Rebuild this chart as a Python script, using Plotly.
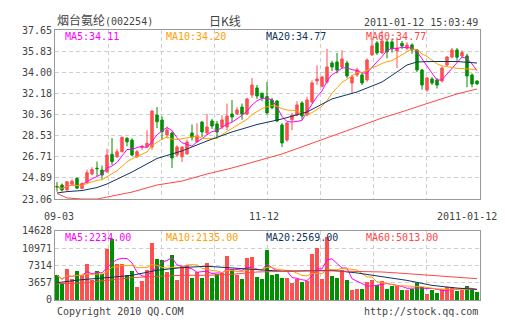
import pandas as pd
import plotly.graph_objects as go

# 烟台氨纶 (002254) daily candles, 2010-09-03 .. 2011-01-12
opens = [24.15, 24.27, 23.84, 24.35, 24.85, 23.98, 24.47, 25.22, 25.72, 25.56,
         25.42, 26.92, 26.71, 27.14, 28.30, 28.15, 26.71, 27.50, 27.58, 27.55,
         30.31, 29.88, 28.59, 28.76, 26.86, 26.70, 26.95, 28.76, 28.00, 29.70,
         28.76, 29.80, 29.54, 29.28, 29.28, 30.40, 30.40, 31.00, 30.40, 32.04,
         32.65, 32.20, 31.90, 31.61, 31.52, 29.45, 28.15, 29.90, 30.31, 31.35,
         30.31, 31.44, 33.25, 32.80, 33.16, 34.80, 34.89, 34.46, 34.80, 33.08,
         33.77, 33.77, 33.34, 35.50, 36.53, 35.67, 36.62, 36.62, 35.84, 36.50,
         36.10, 36.36, 35.93, 34.20, 32.47, 33.42, 33.34, 33.25, 34.63, 35.32,
         35.93, 35.41, 35.41, 33.77, 33.25]
highs = [24.55, 24.40, 24.60, 24.75, 24.90, 24.50, 25.60, 25.80, 26.30, 25.95,
         27.40, 28.33, 27.40, 28.45, 28.40, 28.30, 27.30, 27.75, 29.00, 30.70,
         31.00, 30.20, 29.30, 28.90, 27.70, 27.60, 28.20, 29.50, 29.60, 29.80,
         30.40, 29.98, 29.80, 30.30, 31.30, 31.60, 31.00, 31.30, 31.80, 33.50,
         32.90, 32.20, 33.16, 31.80, 31.60, 29.60, 29.70, 30.50, 31.50, 31.50,
         31.90, 33.30, 34.60, 33.70, 36.01, 35.00, 35.67, 35.90, 35.00, 33.80,
         34.40, 34.00, 35.20, 36.80, 36.70, 37.60, 36.90, 36.90, 37.00, 36.70,
         36.60, 36.50, 36.00, 34.30, 33.60, 33.60, 33.50, 34.50, 35.40, 36.10,
         36.10, 35.90, 35.60, 33.90, 33.30]
lows = [23.70, 23.70, 23.80, 24.30, 23.95, 23.90, 24.40, 25.10, 25.05, 24.75,
        25.30, 26.00, 26.60, 27.10, 27.60, 26.75, 26.60, 27.30, 27.50, 27.30,
        29.19, 28.15, 28.30, 25.74, 26.70, 26.25, 26.90, 28.10, 27.90, 28.40,
        28.60, 29.10, 28.40, 29.10, 29.00, 29.70, 30.30, 29.90, 30.30, 31.80,
        31.70, 31.50, 30.36, 30.80, 29.70, 27.55, 28.00, 29.00, 30.20, 29.90,
        30.20, 31.30, 32.90, 32.70, 33.00, 34.10, 33.90, 34.30, 33.50, 32.13,
        33.60, 32.90, 33.20, 35.40, 35.50, 35.60, 35.20, 35.70, 34.37, 36.00,
        35.90, 35.60, 34.00, 32.50, 32.30, 32.90, 32.60, 33.10, 34.50, 35.20,
        35.00, 35.20, 32.70, 32.70, 32.90]
closes = [24.10, 23.84, 24.55, 24.60, 24.00, 24.40, 25.33, 25.60, 25.68, 25.13,
          26.86, 26.28, 27.14, 28.39, 28.00, 26.86, 27.14, 27.60, 27.87, 30.66,
          29.73, 28.87, 29.02, 26.60, 27.55, 27.55, 27.98, 28.40, 28.50, 28.85,
          29.28, 29.36, 28.85, 29.88, 30.23, 30.14, 30.75, 30.40, 31.70, 32.90,
          31.95, 31.78, 30.49, 30.94, 29.80, 27.90, 29.62, 30.30, 31.18, 30.23,
          31.61, 33.08, 33.42, 33.60, 34.46, 34.46, 34.20, 35.15, 33.68, 33.60,
          34.20, 33.08, 35.06, 36.27, 35.67, 36.70, 35.76, 36.01, 36.10, 36.27,
          36.36, 35.93, 34.20, 32.90, 33.51, 33.08, 32.90, 34.37, 35.32, 35.93,
          35.30, 35.70, 33.68, 32.99, 33.00]
volumes = [5230, 3590, 6660, 4520, 6090, 5230, 7580, 4310, 6160, 5440,
           10710, 12850, 7580, 7580, 5230, 6090, 2740, 4020, 6440, 12140,
           8790, 8580, 5940, 9500, 4310, 7150, 7370, 4660, 5940, 4730,
           7860, 4730, 5440, 5730, 9290, 6660, 5230, 4520, 8900, 9140,
           4880, 4520, 10570, 5230, 5440, 4730, 4730, 3590, 4520, 3810,
           4020, 9710, 10930, 4520, 13410, 5020, 4730, 6300, 4310, 2180,
           2390, 2250, 3810, 4160, 3100, 4020, 2390, 2880, 3100, 2030,
           2030, 2390, 3590, 2740, 1320, 2180, 1460, 2390, 2740, 2740,
           2000, 2200, 3000, 2300, 1670]

# long moving averages (their look-back reaches before the first session shown)
ma_days = [0, 2, 5, 8, 10, 15, 20, 25, 30, 35, 40, 45, 50, 55, 60, 65, 68, 70, 72, 75, 80, 84]
price_ma20 = [23.58, 23.70, 23.79, 24.05, 24.36, 25.39, 26.56, 27.21, 28.07, 28.85, 29.49,
              29.97, 30.57, 31.70, 32.30, 33.16, 34.03, 34.63, 34.89, 34.93, 34.93, 34.80]
price_ma60 = [23.54, 23.15, 23.06, 23.06, 23.23, 23.66, 24.27, 24.61, 25.22, 25.74, 26.34,
              26.95, 27.72, 28.50, 29.28, 30.05, 30.45, 30.75, 31.03, 31.44, 32.13, 32.56]
vol_days = [0, 5, 10, 15, 20, 25, 30, 35, 40, 45, 50, 55, 60, 65, 70, 75, 80, 84]
vol_ma20 = [3670, 4310, 4740, 5230, 6300, 6870, 7150, 6870, 6440, 6090, 6160, 6300,
            5730, 5020, 4160, 3100, 2530, 2240]
vol_ma60 = [3460, 3590, 4160, 4740, 5020, 5230, 5230, 5440, 5940, 6090, 6160, 6160,
            6090, 5940, 5590, 5230, 4880, 4520]

price_ticks = [23.06, 24.89, 26.71, 28.53, 30.36, 32.18, 34.00, 35.83, 37.65]
price_tick_text = ["23.06", "24.89", "26.71", "28.53", "30.36", "32.18", "34.00", "35.83", "37.65"]
vol_ticks = [0, 3657, 7314, 10971, 14628]
vol_tick_text = ["0", "3657", "7314", "10971", "14628"]
date_labels = ["09-03", "11-12", "2011-01-12"]
date_label_days = [0, 42, 84]
price_ma_labels = ["MA5:34.11", "MA10:34.20", "MA20:34.77", "MA60:34.77"]
vol_ma_labels = ["MA5:2234.00", "MA10:2135.00", "MA20:2569.00", "MA60:5013.00"]

RED = "#ff4f4f"
GREEN = "#008f00"
MA_COLORS = ["#ff00ff", "#ffa000", "#0f3460", "#ff4646"]
TEXT = "#444444"
MONO = "DejaVu Sans Mono"

days = list(range(len(closes)))
closes_s = pd.Series(closes)
vol_s = pd.Series(volumes)
price_ma5 = closes_s.rolling(5, min_periods=1).mean()
price_ma10 = closes_s.rolling(10, min_periods=1).mean()
vol_ma5 = vol_s.rolling(5, min_periods=1).mean()
vol_ma10 = vol_s.rolling(10, min_periods=1).mean()
bar_colors = [RED if c >= o else GREEN for o, c in zip(opens, closes)]

fig = go.Figure()
fig.add_trace(go.Candlestick(
    x=days, open=opens, high=highs, low=lows, close=closes,
    increasing=dict(line=dict(color=RED, width=1), fillcolor=RED),
    decreasing=dict(line=dict(color=GREEN, width=1), fillcolor=GREEN),
    xaxis="x", yaxis="y", showlegend=False, hoverinfo="skip"))

for xs, ys, col in [(days, price_ma5, MA_COLORS[0]), (days, price_ma10, MA_COLORS[1]),
                    (ma_days, price_ma20, MA_COLORS[2]), (ma_days, price_ma60, MA_COLORS[3])]:
    fig.add_trace(go.Scatter(x=xs, y=ys, mode="lines", line=dict(color=col, width=1),
                             xaxis="x", yaxis="y", showlegend=False, hoverinfo="skip"))

fig.add_trace(go.Bar(x=days, y=volumes, marker=dict(color=bar_colors, line=dict(width=0)),
                     width=0.8, xaxis="x2", yaxis="y2", showlegend=False, hoverinfo="skip"))
for xs, ys, col in [(days, vol_ma5, MA_COLORS[0]), (days, vol_ma10, MA_COLORS[1]),
                    (vol_days, vol_ma20, MA_COLORS[2]), (vol_days, vol_ma60, MA_COLORS[3])]:
    fig.add_trace(go.Scatter(x=xs, y=ys, mode="lines", line=dict(color=col, width=1),
                             xaxis="x2", yaxis="y2", showlegend=False, hoverinfo="skip"))

grid_x = [-0.4 + 10.625 * k for k in range(1, 8)]
grid_style = dict(showgrid=True, gridcolor="#cfcfcf", griddash="4px,3px", gridwidth=1,
                  showline=True, mirror=True, linecolor="#999999", linewidth=1,
                  zeroline=False, ticks="", fixedrange=True)
x_common = dict(range=[-0.4, 84.6], tickvals=grid_x, showticklabels=False, **grid_style)

fig.update_layout(
    width=505, height=330,
    margin=dict(l=55, r=25, t=30, b=30),
    paper_bgcolor="white", plot_bgcolor="white",
    font=dict(family=MONO, size=10, color=TEXT),
    bargap=0,
    xaxis=dict(domain=[0, 1], anchor="y", rangeslider=dict(visible=False), **x_common),
    xaxis2=dict(domain=[0, 1], anchor="y2", matches="x", **x_common),
    yaxis=dict(domain=[0.374, 1], range=[price_ticks[0], price_ticks[-1]], tickvals=price_ticks,
               ticktext=price_tick_text, tickfont=dict(family=MONO, size=10, color=TEXT),
               anchor="x", **grid_style),
    yaxis2=dict(domain=[0, 0.2556], range=[vol_ticks[0], vol_ticks[-1]], tickvals=vol_ticks,
                ticktext=vol_tick_text, tickfont=dict(family=MONO, size=10, color=TEXT),
                anchor="x2", **grid_style),
)

ann = []
ann.append(dict(text="烟台氨纶<span style='font-size:10px'>(002254)</span>", x=0, y=1.035,
                xref="paper", yref="paper", xanchor="left", yanchor="middle", showarrow=False,
                font=dict(family=MONO + ", Noto Sans CJK SC", size=12, color=TEXT)))
ann.append(dict(text="日K线", x=0.358, y=1.035, xref="paper", yref="paper",
                xanchor="left", yanchor="middle", showarrow=False,
                font=dict(family="Noto Sans CJK SC", size=12, color=TEXT)))
ann.append(dict(text="2011-01-12 15:03:49", x=1.0, y=1.027, xref="paper", yref="paper",
                xanchor="right", yanchor="middle", showarrow=False,
                font=dict(family=MONO, size=10, color=TEXT)))
label_x = [0.019, 0.256, 0.491, 0.726]
for lx, txt, col in zip(label_x, price_ma_labels, MA_COLORS):
    ann.append(dict(text=txt, x=lx, y=0.976, xref="paper", yref="paper", xanchor="left",
                    yanchor="middle", showarrow=False, font=dict(family=MONO, size=10, color=col)))
for lx, txt, col in zip(label_x, vol_ma_labels, MA_COLORS):
    ann.append(dict(text=txt, x=lx, y=0.232, xref="paper", yref="paper", xanchor="left",
                    yanchor="middle", showarrow=False, font=dict(family=MONO, size=10, color=col)))
anchors = ["center", "center", "right"]
shifts = [2, -3, 22]
for d, txt, a, s in zip(date_label_days, date_labels, anchors, shifts):
    ann.append(dict(text=txt, x=d, y=0.309, xref="x", yref="paper", xanchor=a, xshift=s,
                    yanchor="middle", showarrow=False, font=dict(family=MONO, size=10, color=TEXT)))
ann.append(dict(text="Copyright 2010 QQ.COM", x=0, y=-0.043, xref="paper", yref="paper",
                xanchor="left", yanchor="middle", showarrow=False,
                font=dict(family=MONO, size=10, color=TEXT)))
ann.append(dict(text="http://stock.qq.com", x=1.0, y=-0.043, xref="paper", yref="paper",
                xanchor="right", yanchor="middle", showarrow=False,
                font=dict(family=MONO, size=10, color=TEXT)))
fig.update_layout(annotations=ann)

fig.write_html("out.html")
